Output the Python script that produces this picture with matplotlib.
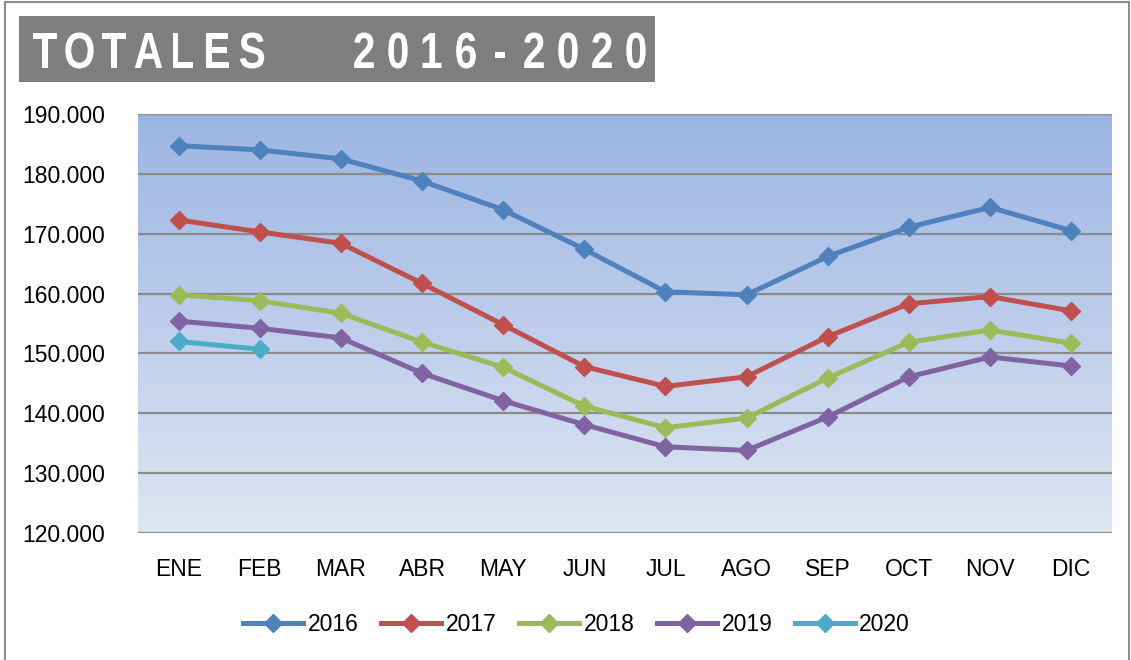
import matplotlib
matplotlib.use("Agg")
import matplotlib.pyplot as plt
import numpy as np
from matplotlib.patches import Rectangle, PathPatch
from matplotlib.lines import Line2D
from matplotlib.textpath import TextPath
from matplotlib.font_manager import FontProperties
from matplotlib.transforms import Affine2D, IdentityTransform

months = ["ENE", "FEB", "MAR", "ABR", "MAY", "JUN", "JUL", "AGO", "SEP", "OCT", "NOV", "DIC"]
years = ["2016", "2017", "2018", "2019", "2020"]
v2016 = [184.7, 184.0, 182.5, 178.8, 174.0, 167.4, 160.3, 159.8, 166.2, 171.1, 174.4, 170.5]
v2017 = [172.3, 170.3, 168.4, 161.7, 154.8, 147.8, 144.5, 146.1, 152.8, 158.3, 159.5, 157.1]
v2018 = [159.8, 158.8, 156.7, 151.9, 147.7, 141.2, 137.6, 139.2, 145.9, 151.9, 153.9, 151.7]
v2019 = [155.4, 154.2, 152.6, 146.7, 142.1, 138.1, 134.4, 133.8, 139.4, 146.1, 149.4, 147.9]
v2020 = [152.0, 150.7]
series = [v2016, v2017, v2018, v2019, v2020]
colors = ["#4f81bd", "#c0504d", "#9bbb59", "#8064a2", "#4bacc6"]
yticks = [120, 130, 140, 150, 160, 170, 180, 190]
title_words = ["TOTALES", "2016-2020"]

plt.rcParams["font.family"] = ["Liberation Sans", "DejaVu Sans"]

W, H = 1131, 660
fig = plt.figure(figsize=(W / 100, H / 100), dpi=100)
# outer frame
fig.patches.append(Rectangle((0.004, -0.01), 0.994, 1.007, transform=fig.transFigure,
                             fill=False, edgecolor="#8c8c8c", lw=1.5))

ax = fig.add_axes([0.122, 0.1924, 0.861, 0.6349])
ax.set_xlim(-0.5, 11.5)
ax.set_ylim(120, 190)

# vertical gradient background
grad = np.linspace(0, 1, 256).reshape(-1, 1)
cmap = matplotlib.colors.LinearSegmentedColormap.from_list("bg", ["#dfe6f3", "#9bb5e3"])
ax.imshow(grad, extent=[-0.5, 11.5, 120, 190], origin="lower", aspect="auto",
          cmap=cmap, zorder=0)

for y in yticks:
    ax.axhline(y, color="#8a8a8a", lw=1.6, zorder=1)

x = np.arange(len(months))
for vals, c, yr in zip(series, colors, years):
    ax.plot(x[:len(vals)], vals, color=c, lw=3.6, marker="D", ms=9,
            markeredgecolor=c, label=yr, zorder=3)

for s in ax.spines.values():
    s.set_visible(False)
ax.set_yticks(yticks)
ax.set_yticklabels([f"{t}.000" for t in yticks], fontsize=16.5)
ax.set_xticks(x)
ax.set_xticklabels(months, fontsize=16.5)
ax.tick_params(length=0)
ax.tick_params(axis="y", pad=24)
ax.tick_params(axis="x", pad=18)

handles = [Line2D([0], [0], color=c, lw=3.6, marker="D", ms=9) for c in colors]
fig.legend(handles, years, loc="center", bbox_to_anchor=(0.51, 0.054), ncol=5,
           frameon=False, fontsize=16.5, handlelength=2.6, handletextpad=0.2,
           columnspacing=1.0)

# title box with letter-spaced, slightly condensed bold text (Calibri-like)
fig.patches.append(Rectangle((19 / W, 1 - 82 / H), 636 / W, 66 / H,
                             transform=fig.transFigure, facecolor="#7f7f7f",
                             edgecolor="none"))
fp = FontProperties(family="Liberation Sans", weight="bold")
cap = TextPath((0, 0), "T", size=100, prop=fp).get_extents().height
sy = 35 / cap
sx = sy * 0.8
baseline = H - 68
for word, x0, pitch in zip(title_words, [45, 364], [34.5, 34.0]):
    for i, ch in enumerate(word):
        tp = TextPath((0, 0), ch, size=100, prop=fp)
        ext = tp.get_extents()
        cx = (ext.x0 + ext.x1) / 2
        tr = Affine2D().translate(-cx, 0).scale(sx, sy).translate(x0 + i * pitch, baseline)
        fig.patches.append(PathPatch(tp, transform=tr + IdentityTransform(),
                                     facecolor="white", edgecolor="none"))

fig.savefig("out.png", dpi=100)
